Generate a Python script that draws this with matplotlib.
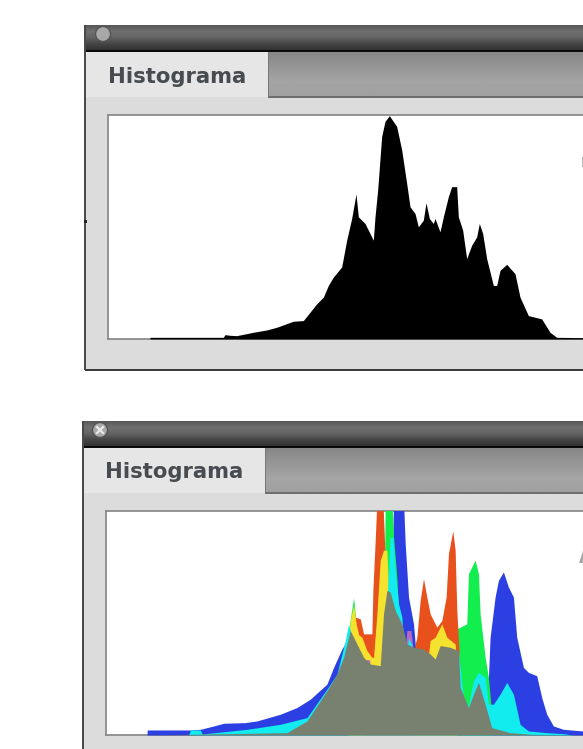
import numpy as np
import matplotlib
matplotlib.use("Agg")
import matplotlib.pyplot as plt
from matplotlib.patches import Rectangle, Circle, Polygon

W, H = 583, 749

# ---- data: tone position / count per channel combination
title = "Histograma"

lum_x = [210,430,435,450,470,520,560,590,640,670,690,710,730,745,760,785,800,815,828,835,855,880,885,893,905,915,928,950,965,980,990,1005,1015,1030,1038,1048,1060,1065,1080,1090,1105,1115,1130,1135,1148,1160,1175,1190,1198,1208,1220,1240,1250,1260,1280,1305,1320,1345,1385,1410,1430,1509]
lum_y = [5,5,13,11,10,20,27,35,53,55,80,105,125,160,185,215,295,360,433,365,345,295,365,445,605,650,667,635,565,465,395,375,335,355,407,360,345,360,320,365,425,455,455,365,325,240,280,305,345,315,240,160,160,205,223,195,125,70,60,20,5,4]

blue_x = [200,330,360,400,430,495,530,600,650,690,740,760,785,800,815,930,940,970,975,985,1000,1005,1015,1215,1225,1230,1245,1255,1270,1285,1300,1310,1330,1345,1370,1385,1400,1420,1450,1509]
blue_y = [15,15,17,27,35,37,42,62,82,107,152,202,257,282,200,200,700,700,572,412,332,272,200,150,170,292,412,462,487,442,412,292,202,187,177,112,62,27,17,12]

green_x = [800,808,820,828,835,905,912,915,935,940,950,960,970,1125,1130,1160,1165,1185,1195,1200,1215,1225,1235]
green_y = [200,332,410,332,250,200,400,700,700,592,472,272,200,200,317,332,482,522,482,362,232,172,60]

red_x = [800,815,825,840,850,875,878,885,890,908,914,918,995,1005,1010,1020,1030,1040,1050,1070,1085,1098,1105,1118,1125,1130,1135,1145]
red_y = [200,312,352,347,302,302,432,582,700,700,552,200,200,272,292,402,467,412,362,322,342,412,542,610,552,372,282,100]

yellow_x = [805,812,820,828,835,845,860,875,880,890,900,910,920,925,930,1040,1050,1065,1085,1100,1125,1130]
yellow_y = [300,352,387,332,300,292,252,232,232,362,522,552,552,432,200,200,282,292,332,292,272,200]

magenta_x = [850,858,868,875,960,975,980,992,1000]
magenta_y = [150,225,225,150,200,250,312,312,250]

cyan_x = [325,330,360,365,500,600,680,740,770,795,805,815,825,915,922,930,938,945,955,965,975,985,995,1000,1130,1135,1150,1165,1180,1195,1215,1225,1240,1260,1280,1300,1320,1345,1400,1450,1480]
cyan_y = [0,15,15,3,17,32,52,137,182,282,332,292,200,200,430,590,590,492,392,352,220,290,270,200,200,252,112,87,162,187,172,92,92,122,157,122,32,12,7,4,0]

gray_x = [200,620,680,740,770,790,810,825,850,870,900,910,920,930,945,965,980,1000,1030,1050,1065,1080,1110,1135,1140,1165,1180,1195,1215,1235,1290,1360,1509]
gray_y = [0,7,42,132,182,232,312,282,232,212,207,362,432,427,372,332,272,262,257,242,227,267,262,252,142,82,122,157,92,22,7,2,0]

layers = [
    (blue_x, blue_y, "#2b3fe2"),
    (green_x, green_y, "#12ee4e"),
    (red_x, red_y, "#e8501c"),
    (yellow_x, yellow_y, "#f5e22e"),
    (magenta_x, magenta_y, "#b968c4"),
    (cyan_x, cyan_y, "#12ecef"),
    (gray_x, gray_y, "#78806f"),
]

fig = plt.figure(figsize=(W / 100, H / 100), dpi=100, facecolor="white")
bg = fig.add_axes([0, 0, 1, 1])
bg.set_xlim(0, W)
bg.set_ylim(H, 0)
bg.axis("off")


def grad(ax, x0, x1, y0, y1, stops):
    g = np.interp(np.linspace(0, 1, 64), np.linspace(0, 1, len(stops)), stops)[:, None]
    ax.imshow(g, extent=(x0, x1, y1, y0), cmap="gray", vmin=0, vmax=255,
              aspect="auto", zorder=2, interpolation="bilinear")


def panel(left, top, bottom, tab_r, text_x, text_y, close_x, close_y, mark):
    bar = top + 25
    strip_t = bar + 2
    strip_b = strip_t + 45
    bg.add_patch(Rectangle((left, bar), W - left, (bottom or H) - bar, fc="#dcdcdc", ec="none", zorder=1))
    grad(bg, left, W, top, bar, [88, 112, 100, 70, 50])
    bg.add_patch(Rectangle((left, bar), W - left, 1.8, fc="#0a0a0a", ec="none", zorder=3))
    bg.add_patch(Rectangle((left - 1.5, top), 2, (bottom or H) - top, fc="#4a4a4a", ec="none", zorder=3))
    grad(bg, tab_r, W, strip_t, strip_b, [135, 150, 165, 160])
    bg.add_patch(Rectangle((tab_r, strip_b - 1), W - tab_r, 1.5, fc="#6e6e6e", ec="none", zorder=3))
    bg.add_patch(Rectangle((tab_r - 0.5, strip_t), 1.2, 45, fc="#777777", ec="none", zorder=3))
    bg.add_patch(Rectangle((left + 1, strip_t), tab_r - left - 1, 45, fc="#e6e6e6", ec="none", zorder=2))
    if bottom:
        bg.add_patch(Rectangle((left, bottom - 1), W - left, 2, fc="#3c3c3c", ec="none", zorder=3))
    bg.text(text_x, text_y, title, family="DejaVu Sans", fontweight="bold", fontsize=15.2,
            color="#484c50", va="baseline", ha="left", zorder=4)
    bg.add_patch(Circle((close_x, close_y), 7.5, fc="#a8a8a8", ec="#555555", lw=1, zorder=4))
    if mark:
        d = 3
        bg.plot([close_x - d, close_x + d], [close_y - d, close_y + d], color="#e8e8e8", lw=1.6, zorder=5)
        bg.plot([close_x - d, close_x + d], [close_y + d, close_y - d], color="#e8e8e8", lw=1.6, zorder=5)


panel(85, 25, 370, 268, 108, 83, 103, 34, False)
panel(83, 421, None, 265, 105, 478, 100, 430, True)
bg.add_patch(Rectangle((83.5, 220), 3, 2.5, fc="#222222", ec="none", zorder=5))
bg.set_xlim(0, W)
bg.set_ylim(H, 0)


def hist_axes(box_l, box_t, box_b, x_left):
    ax = fig.add_axes([box_l / W, 1 - box_b / H, (W - box_l) / W, (box_b - box_t) / H])
    ax.set_xlim(x_left, 1509)
    ax.set_ylim(0, 669)
    ax.set_xticks([])
    ax.set_yticks([])
    ax.set_facecolor("white")
    ax.set_axisbelow(True)
    for s in ("top", "left", "bottom"):
        ax.spines[s].set_color("#8c8c8c")
        ax.spines[s].set_linewidth(1.3)
        ax.spines[s].set_zorder(1)
    ax.spines["right"].set_visible(False)
    return ax


ax1 = hist_axes(108, 115, 339, 84)
ax1.fill_between(lum_x, lum_y, 0, color="black", lw=0, zorder=3)

ax2 = hist_axes(105.5, 511, 735, 75)
for i, (xs, ys, c) in enumerate(layers):
    ax2.fill_between(xs, ys, 0, color=c, lw=0, zorder=3 + i)

# small cut-off glyphs at the right edge of each plot
over = fig.add_axes([0, 0, 1, 1], facecolor="none")
over.set_xlim(0, W)
over.set_ylim(H, 0)
over.axis("off")
over.add_patch(Polygon([(581.5, 157), (583, 157), (583, 167), (581.5, 167)], fc="#b5b5b5", ec="none"))
over.add_patch(Polygon([(579, 563), (583, 551), (583, 563)], fc="#a8a8a8", ec="none"))

fig.savefig("out.png", dpi=100, facecolor="white")
